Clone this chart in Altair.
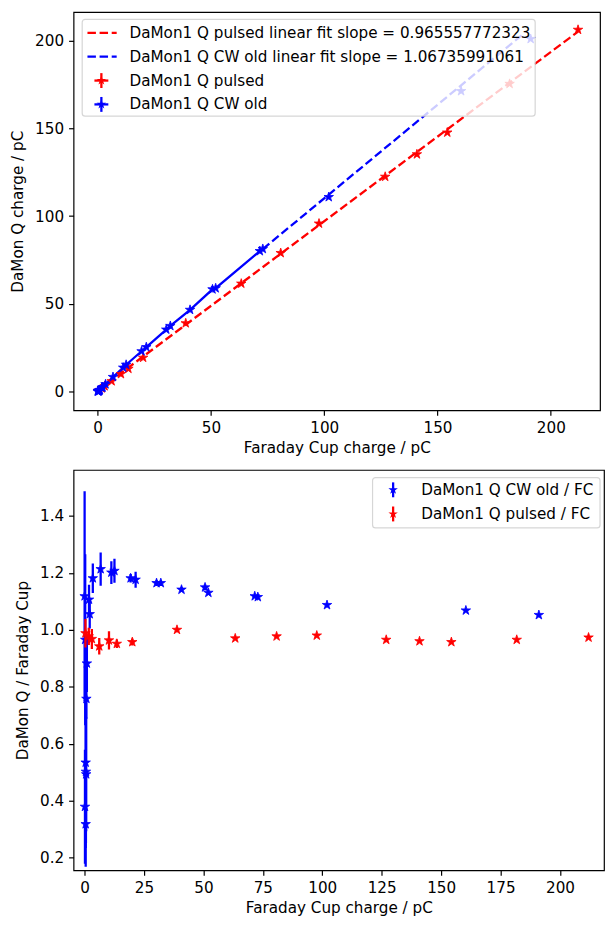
import altair as alt
import pandas as pd

# ---------------- data ----------------
# DaMon1 Q CW old (blue)
cw_fc = [0.05, 0.3, 0.5, 0.6, 0.7, 0.2, 0.5, 0.8, 1.0, 1.9, 2.2, 3.5, 6.8, 11.3, 12.6,
         19.4, 21.5, 30.3, 32.1, 40.8, 50.7, 52.1, 71.6, 72.9, 102.0, 160.4, 191.1]
cw_q = [0.06, 0.29, 0.27, 0.30, 0.35, 0.08, 0.16, 0.61, 0.88, 2.10, 2.32, 4.13, 8.25, 13.57, 15.21,
        22.91, 25.28, 35.27, 37.36, 46.55, 58.25, 58.87, 80.05, 81.28, 110.87, 171.31, 201.04]
cw_ratio = [1.118, 0.965, 0.534, 0.502, 0.493, 0.379, 0.318, 0.758, 0.882, 1.106, 1.055, 1.181, 1.213,
            1.201, 1.207, 1.181, 1.176, 1.164, 1.164, 1.141, 1.149, 1.130, 1.118, 1.115, 1.087, 1.068, 1.052]
cw_ratio_err = [0.368, 0.30, 0.30, 0.25, 0.20, 0.20, 0.15, 0.07, 0.10, 0.052, 0.05, 0.052, 0.058,
                0.04, 0.042, 0.015, 0.028, 0.01, 0.01, 0.008, 0.01, 0.008, 0.006, 0.006, 0.005, 0.004, 0.004]

# DaMon1 Q pulsed (red)
p_fc = [0.4, 1.8, 3.1, 6.2, 10.3, 13.6, 20.1, 38.9, 63.4, 80.8, 97.7, 126.9, 140.9, 154.3, 181.8, 212.0]
p_q = [0.40, 1.76, 3.00, 5.84, 9.92, 12.93, 19.24, 38.90, 61.50, 78.94, 95.75, 122.46, 135.26, 147.67, 175.44, 206.28]
p_ratio = [0.988, 0.977, 0.968, 0.942, 0.963, 0.951, 0.957, 1.000, 0.970, 0.977, 0.980, 0.965,
           0.960, 0.957, 0.965, 0.973]
p_ratio_err = [0.05, 0.03, 0.035, 0.029, 0.032, 0.015, 0.012, 0.008, 0.006, 0.005, 0.005, 0.004,
               0.004, 0.004, 0.004, 0.004]

# linear fits (slopes from the legend, intercepts and drawn ranges)
p_slope = 0.965557772323
p_intercept = 0.5
p_fit_range = [0.0, 212.0]
cw_slope = 1.06735991061
cw_intercept = 3.4
cw_fit_range = [72.9, 188.0]
cw_solid_max = 72.9

top_legend_labels = [
    "DaMon1 Q pulsed linear fit slope = 0.965557772323",
    "DaMon1 Q CW old linear fit slope = 1.06735991061",
    "DaMon1 Q pulsed",
    "DaMon1 Q CW old",
]
bottom_legend_labels = ["DaMon1 Q CW old / FC", "DaMon1 Q pulsed / FC"]

x_top_ticks = [0, 50, 100, 150, 200]
y_top_ticks = [0, 50, 100, 150, 200]
x_bot_ticks = [0, 25, 50, 75, 100, 125, 150, 175, 200]
y_bot_ticks = [0.2, 0.4, 0.6, 0.8, 1.0, 1.2, 1.4]

# ---------------- styling ----------------
FONT = "DejaVu Sans"
FS = 15.3
RED = "#ff0000"
BLUE = "#0000ff"
STAR = ("M0,-1L0.2245,-0.309L0.951,-0.309L0.363,0.118L0.588,0.809L0,0.382"
        "L-0.588,0.809L-0.363,0.118L-0.951,-0.309L-0.2245,-0.309Z")
STAR_SIZE = 100
LW = 2.3
DASH = [8.5, 3.7]

W1, H1 = 530, 401
W2, H2 = 534, 403

cw_df = pd.DataFrame({"fc": cw_fc, "q": cw_q, "ratio": cw_ratio, "err": cw_ratio_err})
p_df = pd.DataFrame({"fc": p_fc, "q": p_q, "ratio": p_ratio, "err": p_ratio_err})

# ---------------- top panel ----------------
xs_top = alt.Scale(domain=[-10.6, 221.7], nice=False, zero=False)
ys_top = alt.Scale(domain=[-10.8, 216.4], nice=False, zero=False)
x_top = alt.X("fc:Q", scale=xs_top,
              axis=alt.Axis(values=x_top_ticks, title="Faraday Cup charge / pC", format="d"))
y_top = alt.Y("q:Q", scale=ys_top,
              axis=alt.Axis(values=y_top_ticks, title="DaMon Q charge / pC", format="d"))


def fit_line(rng, slope, intercept, color):
    return alt.Chart(pd.DataFrame({"fc": rng})).transform_calculate(
        q=f"{slope} * datum.fc + {intercept}"
    ).mark_line(color=color, strokeDash=DASH, strokeWidth=LW, clip=True).encode(x=x_top, y=y_top)


red_fit = fit_line(p_fit_range, p_slope, p_intercept, RED)
blue_fit = fit_line(cw_fit_range, cw_slope, cw_intercept, BLUE)
blue_solid = alt.Chart(cw_df).transform_filter(f"datum.fc <= {cw_solid_max}").mark_line(
    color=BLUE, strokeWidth=LW, clip=True).encode(x=x_top, y=y_top)


def stars(df, color, x, y):
    return alt.Chart(df).mark_point(shape=STAR, filled=True, size=STAR_SIZE, color=color,
                                    opacity=1, strokeWidth=0.8, stroke=color, clip=True).encode(x=x, y=y)


red_pts_top = stars(p_df, RED, x_top, y_top)
blue_pts_top = stars(cw_df, BLUE, x_top, y_top)

one = pd.DataFrame({"a": [0]})


def legend_box(x1, x2, y1, y2):
    return alt.Chart(one).mark_rect(fill="white", fillOpacity=0.8, stroke="#cccccc",
                                    strokeOpacity=0.8, strokeWidth=1.2, cornerRadius=3).encode(
        x=alt.value(x1), x2=alt.value(x2), y=alt.value(y1), y2=alt.value(y2))


def legend_text(label, x, y):
    return alt.Chart(pd.DataFrame({"label": [label]})).mark_text(
        align="left", baseline="middle", font=FONT, fontSize=FS, color="black").encode(
        x=alt.value(x), y=alt.value(y), text="label:N")


def legend_dash(x1, x2, y, color):
    return alt.Chart(one).mark_rule(color=color, strokeWidth=LW, strokeDash=DASH).encode(
        x=alt.value(x1), x2=alt.value(x2), y=alt.value(y))


def legend_errsym(xc, y, color, horiz=True):
    parts = [alt.Chart(one).mark_rule(color=color, strokeWidth=LW).encode(
        x=alt.value(xc), y=alt.value(y - 7.5), y2=alt.value(y + 7.5))]
    if horiz:
        parts.append(alt.Chart(one).mark_rule(color=color, strokeWidth=LW).encode(
            x=alt.value(xc - 7), x2=alt.value(xc + 7), y=alt.value(y)))
    parts.append(alt.Chart(one).mark_point(shape=STAR, filled=True, size=STAR_SIZE, color=color,
                                           opacity=1).encode(x=alt.value(xc), y=alt.value(y)))
    return parts


rows_top = [21, 45, 69, 93]
top_leg = [legend_box(8.7, 464.7, 7.3, 104.8),
           legend_dash(14, 43.4, rows_top[0], RED),
           legend_dash(14, 43.4, rows_top[1], BLUE)]
top_leg += legend_errsym(28, rows_top[2], RED)
top_leg += legend_errsym(28, rows_top[3], BLUE)
top_leg += [legend_text(lab, 56.3, yy) for lab, yy in zip(top_legend_labels, rows_top)]

top = alt.layer(red_fit, blue_fit, blue_solid, red_pts_top, blue_pts_top, *top_leg).properties(
    width=W1, height=H1)

# ---------------- bottom panel ----------------
xs_bot = alt.Scale(domain=[-4.6, 218.5], nice=False, zero=False)
ys_bot = alt.Scale(domain=[0.156, 1.561], nice=False, zero=False)
x_bot = alt.X("fc:Q", scale=xs_bot,
              axis=alt.Axis(values=x_bot_ticks, title="Faraday Cup charge / pC", format="d"))
y_bot_axis = alt.Axis(values=y_bot_ticks, title="DaMon Q / Faraday Cup", format=".1f")
y_bot = alt.Y("ratio:Q", scale=ys_bot, axis=y_bot_axis)


def errbars(df, color):
    return alt.Chart(df).transform_calculate(
        lo="datum.ratio - datum.err", hi="datum.ratio + datum.err"
    ).mark_rule(color=color, strokeWidth=LW, clip=True).encode(
        x=x_bot, y=alt.Y("lo:Q", scale=ys_bot, axis=y_bot_axis), y2="hi:Q")


blue_err = errbars(cw_df, BLUE)
blue_pts_bot = stars(cw_df, BLUE, x_bot, y_bot)
red_err = errbars(p_df, RED)
red_pts_bot = stars(p_df, RED, x_bot, y_bot)

bl = W2 - 233
rows_bot = [20, 44.3]
bot_leg = [legend_box(bl, W2 - 4, 7.7, 58.3)]
bot_leg += legend_errsym(bl + 20.7, rows_bot[0], BLUE, horiz=False)
bot_leg += legend_errsym(bl + 20.7, rows_bot[1], RED, horiz=False)
bot_leg += [legend_text(lab, bl + 49, yy) for lab, yy in zip(bottom_legend_labels, rows_bot)]

bottom = alt.layer(blue_err, blue_pts_bot, red_err, red_pts_bot, *bot_leg).properties(
    width=W2, height=H2)

chart = alt.concat(top, bottom, columns=1, spacing=12, align="none").properties(
    padding={"left": 2, "top": 0, "right": 0, "bottom": 0}
).configure_view(
    stroke="black", strokeWidth=1.2
).configure_axis(
    labelFont=FONT, titleFont=FONT, labelFontSize=FS, titleFontSize=FS,
    titleFontWeight="normal", labelColor="black", titleColor="black",
    tickColor="black", tickSize=5, tickWidth=1.2, grid=False, domain=False,
    labelPadding=5, labelFlush=False, labelOverlap=False
).configure_axisX(
    titlePadding=5
).configure_axisY(
    titlePadding=9
)

chart.save("out.html", embed_options={"renderer": "svg", "actions": False})
